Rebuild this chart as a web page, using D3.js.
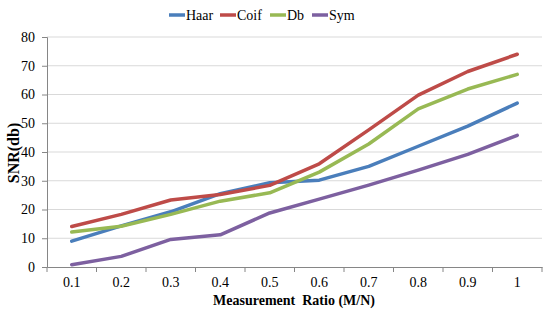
<!DOCTYPE html>
<html>
<head>
<meta charset="utf-8">
<script src="https://cdn.jsdelivr.net/npm/d3@7"></script>
<style>
  body { margin: 0; background: #fff; }
</style>
</head>
<body>
<svg id="chart" width="550" height="322"></svg>
<script>
const categories = ['0.1', '0.2', '0.3', '0.4', '0.5', '0.6', '0.7', '0.8', '0.9', '1'];
const haar = [9, 14.3, 19.2, 25.5, 29.3, 30.2, 35, 42, 49, 57];
const coif = [14.1, 18.3, 23.3, 25.2, 28.4, 35.9, 47.7, 59.8, 68, 74];
const db   = [12.2, 14.2, 18.3, 22.9, 25.8, 33, 42.8, 55, 61.9, 67];
const sym  = [0.8, 3.7, 9.6, 11.2, 18.8, 23.6, 28.5, 33.7, 39.2, 45.8];
const yTicks = [0, 10, 20, 30, 40, 50, 60, 70, 80];

const seriesNames = ['Haar', 'Coif', 'Db', 'Sym'];
const seriesValues = [haar, coif, db, sym];
const colors = ['#4a7ebb', '#be4b48', '#98b954', '#7d60a0'];

const svg = d3.select('#chart').attr('font-family', 'Liberation Serif');
const plotLeft = 47, plotRight = 542, plotTop = 37, plotBottom = 267;

const x = d3.scaleBand().domain(categories).range([plotLeft, plotRight]);
const y = d3.scaleLinear().domain([0, 80]).range([plotBottom, plotTop]);

// gridlines
svg.append('g')
    .selectAll('line')
    .data(yTicks.filter(d => d > 0))
    .join('line')
    .attr('x1', plotLeft).attr('x2', plotRight)
    .attr('y1', d => y(d)).attr('y2', d => y(d))
    .attr('stroke', '#d9d9d9')
    .attr('stroke-width', 1);

// y axis
const yAxis = svg.append('g')
    .attr('transform', `translate(${plotLeft},0)`)
    .call(d3.axisLeft(y).tickValues(yTicks).tickSize(5).tickPadding(7));
yAxis.attr('font-family', 'Liberation Serif').attr('font-size', 14);
yAxis.select('.domain').attr('stroke', '#868686');
yAxis.selectAll('.tick line').attr('stroke', '#868686');
yAxis.selectAll('text').attr('fill', '#000');

// x axis: ticks on category boundaries
const xAxis = svg.append('g')
    .attr('transform', `translate(0,${plotBottom})`)
    .call(d3.axisBottom(x).tickSize(0).tickPadding(10));
xAxis.attr('font-family', 'Liberation Serif').attr('font-size', 14);
xAxis.select('.domain').attr('stroke', '#868686');
xAxis.selectAll('text').attr('fill', '#000');
svg.append('g')
    .selectAll('line')
    .data(categories.concat(['end']))
    .join('line')
    .attr('x1', (d, i) => plotLeft + i * x.step())
    .attr('x2', (d, i) => plotLeft + i * x.step())
    .attr('y1', plotBottom).attr('y2', plotBottom + 5)
    .attr('stroke', '#868686');

// lines
const line = d3.line()
    .x((d, i) => x(categories[i]) + x.bandwidth() / 2)
    .y(d => y(d));

svg.append('g')
    .selectAll('path')
    .data(seriesValues)
    .join('path')
    .attr('d', line)
    .attr('fill', 'none')
    .attr('stroke', (d, i) => colors[i])
    .attr('stroke-width', 3.5)
    .attr('stroke-linejoin', 'round')
    .attr('stroke-linecap', 'round');

// axis titles
svg.append('text')
    .attr('x', 294).attr('y', 305)
    .attr('text-anchor', 'middle')
    .attr('font-size', 14)
    .attr('font-weight', 'bold')
    .attr('xml:space', 'preserve')
    .text('Measurement  Ratio (M/N)');

svg.append('text')
    .attr('transform', 'translate(19,153) rotate(-90)')
    .attr('text-anchor', 'middle')
    .attr('font-size', 16)
    .attr('font-weight', 'bold')
    .text('SNR(db)');

// legend
const legendX = [169, 220, 270, 312];
const legend = svg.append('g');
seriesNames.forEach(function (name, i) {
    legend.append('line')
        .attr('x1', legendX[i]).attr('x2', legendX[i] + 16)
        .attr('y1', 15).attr('y2', 15)
        .attr('stroke', colors[i])
        .attr('stroke-width', 3.5);
    legend.append('text')
        .attr('x', legendX[i] + 17).attr('y', 20)
        .attr('font-size', 14)
        .text(name);
});
</script>
</body>
</html>
